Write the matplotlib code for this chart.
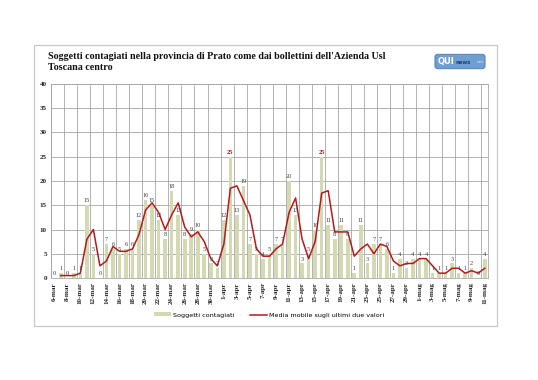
import numpy as np
import pandas as pd
import matplotlib
matplotlib.use("Agg")
import matplotlib.pyplot as plt
from matplotlib.patches import Rectangle, FancyBboxPatch
from matplotlib.lines import Line2D
from matplotlib.patches import Patch

# -------------------- DATI --------------------
contagiati = [
    # marzo (6-31)
    0, 1, 0, 1, 1, 15, 5, 0, 7, 6, 5, 6, 6, 12, 16, 15, 12, 8, 18, 13, 8, 9, 10, 5, 3, 2,
    # aprile (1-30)
    12, 25, 13, 19, 7, 5, 4, 5, 7, 7, 20, 13, 3, 5, 10, 25, 11, 8, 11, 8, 1, 11, 3, 7, 7, 6,
    1, 4, 2, 4,
    # maggio (1-11)
    4, 4, 1, 1, 1, 3, 1, 1, 2, 0, 4,
]
mesi = {3: "mar", 4: "apr", 5: "mag"}
giorni = pd.date_range("2020-03-06", "2020-05-11")
etichette = [f"{d.day}-{mesi[d.month]}" for d in giorni]

titolo = ("Soggetti contagiati nella provincia di Prato come dai bollettini dell'Azienda Usl\n"
          "Toscana centro")
nome_barre = "Soggetti contagiati"
nome_linea = "Media mobile sugli ultimi due valori"

# media mobile su due valori (parte dal secondo giorno)
valori = np.array(contagiati, dtype=float)
media = pd.Series(valori).rolling(2).mean().to_numpy()

col_barre = "#d5d9b1"
col_linea = "#b31b1b"
col_griglia = "#a6a6a6"
serif = ["Liberation Serif", "DejaVu Serif"]

# -------------------- GRAFICO --------------------
fig = plt.figure(figsize=(5.38, 3.80), dpi=100)
fig.patch.set_facecolor("white")

# cornice esterna
fig.add_artist(Rectangle((34 / 538, 1 - 326 / 380), (497 - 34) / 538, (326 - 45) / 380,
                         transform=fig.transFigure, fill=False, edgecolor="#c8c8c8", linewidth=0.9))

ax = fig.add_axes([51 / 538, 1 - 278 / 380, (488 - 51) / 538, (278 - 84) / 380])
x = np.arange(len(contagiati))

ax.bar(x, valori, width=0.55, color=col_barre, zorder=2)
ax.plot(x, media, color=col_linea, linewidth=1.1, zorder=3)

vmax = max(contagiati)
for xi, v in zip(x, contagiati):
    rosso = v == vmax
    ax.text(xi, v + 0.4, str(v), ha="center", va="bottom", fontsize=4.6,
            family=serif, color=col_linea if rosso else "#404040",
            fontweight="bold" if rosso else "normal", zorder=4)

ax.set_xlim(-0.5, len(contagiati) - 0.5)
ax.set_ylim(0, 40)
ax.set_yticks(np.arange(0, 41, 5))
ax.set_xticks(x[::2])
ax.set_xticklabels(etichette[::2], rotation=90)
ax.set_xticks(np.arange(-0.5, len(contagiati), 2), minor=True)

for lab in ax.get_xticklabels() + ax.get_yticklabels():
    lab.set_family(serif)
    lab.set_fontweight("bold")
    lab.set_fontsize(5)
    lab.set_color("#222222")

ax.tick_params(axis="both", which="both", length=0, pad=3)
ax.grid(axis="y", color=col_griglia, linewidth=0.6, zorder=0)
ax.grid(axis="x", which="minor", color=col_griglia, linewidth=0.6, zorder=0)
ax.grid(axis="x", which="major", visible=False)
for s in ax.spines.values():
    s.set_color(col_griglia)
    s.set_linewidth(0.6)
ax.set_axisbelow(True)

# titolo
fig.text(48 / 538, 1 - 52 / 380, titolo, ha="left", va="top", fontsize=7.2,
         fontweight="bold", family=serif, linespacing=1.25, color="#111111")

# logo
lx0, ly0, lw, lh = 436 / 538, 1 - 68 / 380, 48 / 538, 13 / 380
fig.add_artist(FancyBboxPatch((lx0, ly0), lw, lh, boxstyle="round,pad=0.002,rounding_size=0.006",
                              transform=fig.transFigure, facecolor="#6f9fd2",
                              edgecolor="#4a78b0", linewidth=0.6))
fig.text(lx0 + 0.003, ly0 + lh / 2, "QUI", ha="left", va="center", fontsize=6,
         fontweight="bold", color="white", family="DejaVu Sans")
fig.text(lx0 + 0.036, ly0 + lh / 2 - 0.002, "news", ha="left", va="center", fontsize=3.8,
         fontweight="bold", color="#1f3f73", family="DejaVu Sans")
fig.text(lx0 + 0.075, ly0 + lh / 2 - 0.002, "net", ha="left", va="center", fontsize=3.2,
         color="#d8e6f5", family="DejaVu Sans")

# legenda
handles = [Patch(facecolor=col_barre, edgecolor="none"),
           Line2D([0], [0], color=col_linea, linewidth=1.1)]
fig.legend(handles, [nome_barre, nome_linea], loc="center", ncol=2,
           bbox_to_anchor=(0.5, 1 - 315 / 380), frameon=False,
           prop={"family": "DejaVu Sans", "size": 4.6}, handlelength=2.6,
           handleheight=0.6, columnspacing=2.5, handletextpad=0.3)

plt.savefig("out.png", dpi=100)
